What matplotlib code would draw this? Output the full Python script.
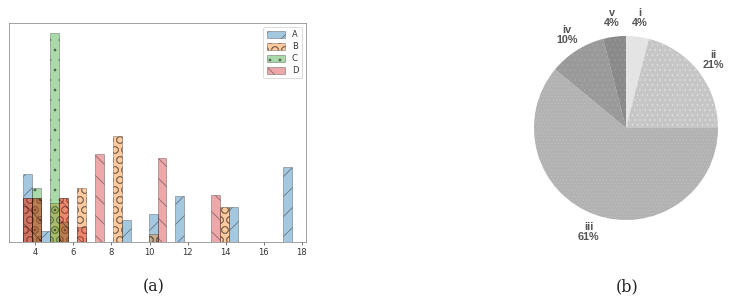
import numpy as np
import matplotlib
matplotlib.use('Agg')
import matplotlib.pyplot as plt

# --- histogram data (30 shared bins from 3.34 to 17.5) ---
bin_lo, bin_hi, n_bins = 3.34, 17.5, 30
series_names = ['A', 'B', 'C', 'D']
counts_A = {0: 6.8, 2: 1.1, 11: 2.2, 14: 2.8, 17: 4.6, 23: 3.5, 29: 7.5}
counts_B = {0: 4.4, 1: 4.4, 3: 3.9, 4: 4.4, 6: 5.4, 10: 10.6, 14: 0.8, 22: 3.5}
counts_C = {1: 5.4, 3: 20.9, 4: 2.0}
counts_D = {0: 4.4, 1: 4.4, 4: 4.4, 6: 1.5, 8: 8.8, 15: 8.4, 21: 4.7}
series_colors = ['#1f77b4', '#ff7f0e', '#2ca02c', '#d62728']
series_hatch = ['/', 'O', '.', '\\']
xticks = [4, 6, 8, 10, 12, 14, 16, 18]

# --- pie data ---
pie_labels = ['i', 'ii', 'iii', 'iv', 'v']
pie_values = [4, 21, 61, 10, 4]
pie_colors = ['#e4e4e4', '#c6c6c6', '#b2b2b2', '#9a9a9a', '#8a8a8a']
pie_hatch = ['', '..', '...', '..', '..']
pie_hatch_col = ['#e4e4e4', '#e6e6e6', '#c4c4c4', '#aaaaaa', '#9c9c9c']

W, H, DPI = 731, 299, 60
fig = plt.figure(figsize=(W / DPI, H / DPI), dpi=DPI)

# --- (a) overlapping histograms ---
ax = fig.add_axes([9.3 / W, 1 - 241.7 / H, 296.4 / W, 219 / H])
edges = np.linspace(bin_lo, bin_hi, n_bins + 1)
width = edges[1] - edges[0]
for name, cnt, c, h in zip(series_names, [counts_A, counts_B, counts_C, counts_D],
                           series_colors, series_hatch):
    heights = np.zeros(n_bins)
    for k, v in cnt.items():
        heights[k] = v
    ax.bar(edges[:-1], heights, width=width, align='edge', color=c, alpha=0.4,
           edgecolor='black', linewidth=0.8, hatch=h, label=name)
ax.set_xticks(xticks)
ax.set_yticks([])
ax.tick_params(axis='x', labelsize=10, colors='#333333', length=4)
for s in ax.spines.values():
    s.set_color('#777777')
leg = ax.legend(loc='upper right', fontsize=10, handlelength=2.2, handleheight=0.9,
                borderpad=0.4, labelspacing=0.35)
for t in leg.get_texts():
    t.set_color('#333333')

# --- (b) pie ---
pax = fig.add_axes([511 / W, 1 - 243 / H, 230 / W, 230 / H])
labels = [f'{l}\n{v}%' for l, v in zip(pie_labels, pie_values)]
with plt.rc_context({'hatch.linewidth': 0.6}):
    wedges, texts = pax.pie(pie_values, labels=labels, colors=pie_colors, startangle=90,
                            counterclock=False, labeldistance=1.2,
                            wedgeprops=dict(linewidth=0),
                            textprops=dict(fontsize=13, fontweight='bold', color='#555555',
                                           family='Liberation Sans', linespacing=1.0))
    for w, h, hc in zip(wedges, pie_hatch, pie_hatch_col):
        w.set_hatch(h)
        w.set_edgecolor(hc)
        w.set_linewidth(0)
for t in texts:
    t.set_ha('center')
    t.set_va('center')

# --- captions ---
fig.text(154 / W, 1 - 287 / H, '(a)', ha='center', va='center',
         fontsize=19, family='DejaVu Serif', color='#222222')
fig.text(627 / W, 1 - 287 / H, '(b)', ha='center', va='center',
         fontsize=19, family='DejaVu Serif', color='#222222')

fig.savefig('out.png', dpi=DPI)
